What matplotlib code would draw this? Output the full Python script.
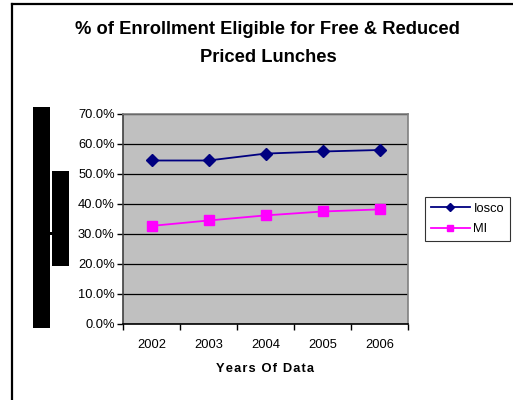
import matplotlib.pyplot as plt
from matplotlib.patches import Rectangle
from matplotlib.lines import Line2D
from matplotlib.ticker import FuncFormatter

years = ["2002", "2003", "2004", "2005", "2006"]
iosco = [54.5, 54.5, 56.8, 57.5, 58.0]
mi = [32.7, 34.5, 36.2, 37.5, 38.2]

W, H = 513, 400
plt.rcParams['font.family'] = ['Liberation Sans', 'DejaVu Sans']

fig = plt.figure(figsize=(W / 100, H / 100), dpi=100)
fig.patch.set_facecolor('white')


def fx(px):
    return px / W


def fy(py):
    return 1 - py / H


# outer chart frame (only top and left edges visible)
fig.add_artist(Line2D([fx(12), fx(12)], [fy(4), 0], color='black', lw=1.6,
                      transform=fig.transFigure))
fig.add_artist(Line2D([fx(12), 1], [fy(4), fy(4)], color='black', lw=1.6,
                      transform=fig.transFigure))

# blacked-out boxes where the y-axis label was
for x0, y0, x1, y1 in [(33, 107, 50, 328), (52, 171, 69, 266), (49, 232, 52, 235)]:
    fig.add_artist(Rectangle((fx(x0), fy(y1)), fx(x1) - fx(x0), fy(y0) - fy(y1),
                             facecolor='black', edgecolor='none',
                             transform=fig.transFigure))

ax = fig.add_axes([fx(123), fy(324), fx(408) - fx(123), fy(114) - fy(324)])
ax.set_facecolor('#C0C0C0')

x = range(len(years))
ax.plot(x, iosco, color='#000080', marker='D', markersize=6.5, lw=1.3, label='Iosco')
ax.plot(x, mi, color='#FF00FF', marker='s', markersize=7, lw=1.3, label='MI')

ax.set_xlim(-0.5, len(years) - 0.5)
ax.set_ylim(0, 70)
ax.set_yticks(range(0, 71, 10))
ax.yaxis.set_major_formatter(FuncFormatter(lambda v, p: f"{v:.1f}%"))
ax.set_xticks(x)
ax.set_xticklabels(years)
ax.set_xticks([i - 0.5 for i in range(len(years) + 1)], minor=True)
ax.tick_params(axis='x', which='major', length=0, pad=11, labelsize=9.3)
ax.tick_params(axis='x', which='minor', length=4, width=1, direction='out')
ax.tick_params(axis='y', length=4, width=1, direction='out', pad=2, labelsize=9.3)
ax.grid(axis='y', color='black', lw=0.9)
ax.set_axisbelow(True)

for side in ['top', 'right']:
    ax.spines[side].set_color('#808080')
    ax.spines[side].set_linewidth(1.2)
ax.spines['left'].set_color('#404040')
ax.spines['bottom'].set_color('black')
ax.spines['left'].set_linewidth(1.2)
ax.spines['bottom'].set_linewidth(1.2)

fig.text(fx(267), fy(30), "% of Enrollment Eligible for Free & Reduced",
         ha='center', va='center', fontsize=13.2, fontweight='bold')
fig.text(fx(268), fy(57), "Priced Lunches",
         ha='center', va='center', fontsize=13.2, fontweight='bold')
fig.text(fx(265), fy(369), "\u200a".join("Years Of Data"),
         ha='center', va='center', fontsize=9.3, fontweight='bold')

leg = ax.legend(loc='upper left', bbox_to_anchor=(fx(425), fy(197)),
                bbox_transform=fig.transFigure, frameon=True, fancybox=False,
                edgecolor='black', fontsize=9.3, handlelength=3.0,
                markerscale=0.6, borderpad=0.45, labelspacing=0.65,
                handletextpad=0.3, borderaxespad=0)
leg.get_frame().set_linewidth(0.8)

fig.savefig("out.png", dpi=100)
